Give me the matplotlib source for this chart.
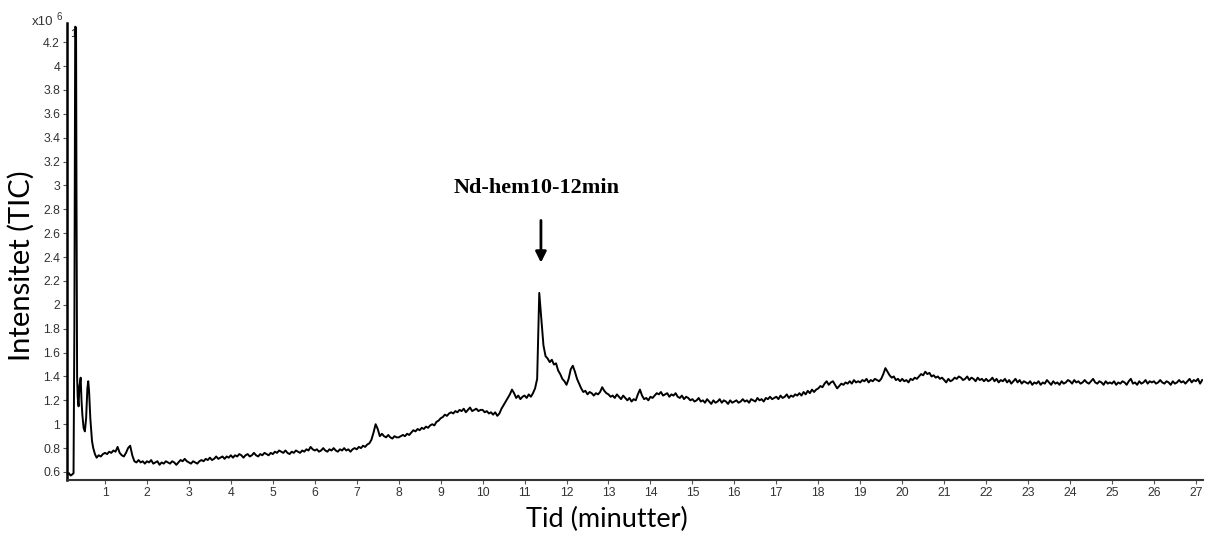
import matplotlib
matplotlib.use("Agg")
import matplotlib.pyplot as plt
import numpy as np

# TIC kromatogram, intensitet i enheter av 10^6
# Start (fin opplosning rundt injeksjonstoppen)
t_start = [0.10, 0.14, 0.18, 0.22, 0.25, 0.27, 0.29, 0.31, 0.32, 0.335,
           0.35, 0.37, 0.39, 0.42, 0.44, 0.46, 0.49, 0.52, 0.55, 0.58,
           0.60, 0.62, 0.65, 0.69, 0.72, 0.76, 0.80, 0.85]
i_start = [0.58, 0.59, 0.57, 0.58, 0.59, 1.80, 4.33, 4.32, 3.00, 1.40,
           1.22, 1.15, 1.32, 1.39, 1.20, 1.08, 0.97, 0.94, 1.05, 1.30,
           1.36, 1.28, 1.05, 0.86, 0.80, 0.75, 0.72, 0.74]

# Resten: hvert 0.05 min fra 0.90
t0 = 0.90
dt = 0.05
i_rest = [
    0.73, 0.75,
    0.76, 0.75, 0.77, 0.76, 0.78, 0.77, 0.81, 0.76, 0.74, 0.73, 0.76, 0.80, 0.82, 0.74, 0.69, 0.68, 0.70, 0.68, 0.69, 0.67,
    0.69, 0.68, 0.70, 0.67, 0.68, 0.69, 0.66, 0.68, 0.67, 0.69, 0.68, 0.67, 0.69, 0.68, 0.66, 0.68, 0.70, 0.69, 0.71, 0.69,
    0.68, 0.67, 0.69, 0.68, 0.67, 0.69, 0.70, 0.69, 0.71, 0.70, 0.72, 0.70, 0.71, 0.73, 0.71, 0.72, 0.73, 0.71, 0.73, 0.72,
    0.74, 0.72, 0.74, 0.73, 0.75, 0.74, 0.72, 0.74, 0.75, 0.73, 0.74, 0.76, 0.74, 0.73, 0.75, 0.74, 0.76, 0.75, 0.74, 0.76,
    0.75, 0.77, 0.76, 0.78, 0.77, 0.76, 0.78, 0.76, 0.75, 0.77, 0.76, 0.78, 0.77, 0.76, 0.78, 0.77, 0.79, 0.78, 0.81, 0.79,
    0.78, 0.79, 0.77, 0.78, 0.80, 0.78, 0.77, 0.79, 0.78, 0.80, 0.78, 0.77, 0.79, 0.78, 0.80, 0.78, 0.79, 0.77, 0.79, 0.80,
    0.79, 0.81, 0.80, 0.82, 0.81, 0.83, 0.84, 0.87, 0.93, 1.00, 0.96, 0.90, 0.92, 0.90, 0.89, 0.91, 0.89, 0.88, 0.90, 0.89,
    0.89, 0.90, 0.91, 0.90, 0.92, 0.91, 0.93, 0.95, 0.94, 0.96, 0.95, 0.97, 0.96, 0.98, 0.97, 0.99, 1.00, 0.99, 1.02, 1.03,
    1.05, 1.06, 1.08, 1.07, 1.09, 1.10, 1.09, 1.11, 1.10, 1.12, 1.11, 1.13, 1.10, 1.12, 1.14, 1.11, 1.12, 1.13, 1.11, 1.12,
    1.12, 1.10, 1.11, 1.09, 1.10, 1.08, 1.10, 1.07, 1.09, 1.13, 1.16, 1.19, 1.22, 1.25, 1.29, 1.26, 1.22, 1.24, 1.21, 1.23,
    1.24, 1.22, 1.25, 1.23, 1.26, 1.30, 1.38, 2.10, 1.88, 1.66, 1.57, 1.55, 1.52, 1.54, 1.50, 1.51, 1.45, 1.42, 1.38, 1.36,
    1.33, 1.38, 1.46, 1.49, 1.44, 1.38, 1.34, 1.30, 1.27, 1.28, 1.25, 1.27, 1.26, 1.24, 1.26, 1.25, 1.27, 1.31, 1.28, 1.26,
    1.25, 1.23, 1.24, 1.22, 1.25, 1.23, 1.21, 1.24, 1.22, 1.20, 1.22, 1.19, 1.21, 1.20, 1.25, 1.29, 1.24, 1.21, 1.22, 1.20,
    1.23, 1.22, 1.24, 1.26, 1.25, 1.27, 1.24, 1.25, 1.26, 1.23, 1.25, 1.24, 1.26, 1.23, 1.22, 1.24, 1.21, 1.23, 1.22, 1.20,
    1.21, 1.19, 1.20, 1.22, 1.19, 1.20, 1.18, 1.21, 1.19, 1.17, 1.20, 1.18, 1.19, 1.21, 1.18, 1.20, 1.19, 1.17, 1.20, 1.18,
    1.19, 1.20, 1.18, 1.19, 1.21, 1.19, 1.20, 1.18, 1.21, 1.20, 1.19, 1.22, 1.20, 1.21, 1.19, 1.22, 1.21, 1.23, 1.21, 1.22,
    1.23, 1.21, 1.24, 1.22, 1.23, 1.25, 1.22, 1.24, 1.23, 1.25, 1.24, 1.26, 1.24, 1.27, 1.25, 1.28, 1.26, 1.29, 1.27, 1.29,
    1.30, 1.32, 1.31, 1.34, 1.36, 1.33, 1.35, 1.36, 1.33, 1.30, 1.32, 1.34, 1.33, 1.35, 1.34, 1.36, 1.34, 1.37, 1.35, 1.36,
    1.35, 1.37, 1.36, 1.38, 1.35, 1.37, 1.36, 1.38, 1.37, 1.36, 1.38, 1.42, 1.47, 1.44, 1.41, 1.39, 1.40, 1.37, 1.38, 1.36,
    1.38, 1.36, 1.37, 1.35, 1.38, 1.37, 1.39, 1.38, 1.40, 1.42, 1.41, 1.44, 1.42, 1.43, 1.40, 1.41, 1.39, 1.40, 1.38, 1.39,
    1.37, 1.35, 1.38, 1.36, 1.37, 1.39, 1.38, 1.40, 1.39, 1.37, 1.38, 1.40, 1.37, 1.39, 1.38, 1.36, 1.39, 1.37, 1.38, 1.36,
    1.38, 1.36, 1.37, 1.39, 1.36, 1.38, 1.35, 1.37, 1.36, 1.38, 1.35, 1.37, 1.34, 1.36, 1.38, 1.35, 1.37, 1.34, 1.36, 1.35,
    1.34, 1.36, 1.33, 1.35, 1.34, 1.36, 1.33, 1.35, 1.34, 1.37, 1.35, 1.33, 1.36, 1.34, 1.35, 1.33, 1.36, 1.34, 1.35, 1.37,
    1.36, 1.34, 1.37, 1.35, 1.36, 1.34, 1.35, 1.37, 1.35, 1.34, 1.36, 1.38, 1.35, 1.34, 1.36, 1.35, 1.33, 1.36, 1.34, 1.35,
    1.34, 1.36, 1.33, 1.35, 1.34, 1.36, 1.35, 1.33, 1.36, 1.38, 1.34, 1.35, 1.33, 1.36, 1.34, 1.35, 1.37, 1.34, 1.36, 1.35,
    1.36, 1.34, 1.35, 1.37, 1.35, 1.34, 1.36, 1.35, 1.33, 1.36, 1.34, 1.35, 1.37, 1.35, 1.36, 1.34, 1.36, 1.38, 1.35, 1.37,
    1.36, 1.38, 1.34, 1.37,
]

x_ticks = list(range(1, 28))
y_ticks = [0.6, 0.8, 1, 1.2, 1.4, 1.6, 1.8, 2, 2.2, 2.4, 2.6, 2.8, 3,
           3.2, 3.4, 3.6, 3.8, 4, 4.2]

peak_label = "Nd-hem10-12min"
peak_time = 11.39

t_rest = t0 + dt * np.arange(len(i_rest))
tid = np.concatenate([t_start, t_rest])
intens = np.concatenate([i_start, i_rest])

fig = plt.figure(figsize=(12.07, 5.36), dpi=100)
ax = fig.add_axes([0.0555, 0.1045, 0.9412, 0.8525])

ax.plot(tid, intens, color="black", lw=1.4)

ax.set_xlim(0.094, 27.17)
ax.set_ylim(0.533, 4.36)
ax.set_xticks(x_ticks)
ax.set_yticks(y_ticks)
ax.set_yticklabels(["%g" % v for v in y_ticks])

for s in ["top", "right"]:
    ax.spines[s].set_visible(False)
ax.spines["left"].set_linewidth(1.8)
ax.spines["left"].set_color("black")
ax.spines["bottom"].set_linewidth(1.5)
ax.spines["bottom"].set_color("#333333")

ax.tick_params(length=3, width=0.8, color="#555555", labelcolor="#333333",
               labelsize=8.8, pad=2)
for lbl in ax.get_xticklabels() + ax.get_yticklabels():
    lbl.set_family("Liberation Sans")

ax.set_xlabel("Tid (minutter)", fontsize=19.5, family="Lato")
ax.set_ylabel("Intensitet (TIC)", fontsize=21, family="Lato")
ax.xaxis.set_label_coords(0.475, -0.058)
ax.yaxis.set_label_coords(-0.028, 0.468)

# skalafaktor oppe til venstre
fig.text(0.026, 0.953, "x10", fontsize=9.5, color="#333333", family="Liberation Sans")
fig.text(0.0465, 0.962, "6", fontsize=7, color="#333333", family="Liberation Sans")

# toppnummer
ax.text(0.16, 4.27, "1", fontsize=8, color="black", family="Liberation Sans",
        ha="left", va="center")

ax.annotate("", xy=(peak_time, 2.33), xytext=(peak_time, 2.73),
            arrowprops=dict(arrowstyle="-|>", color="black", lw=2,
                            mutation_scale=16))
ax.text(peak_time - 0.1, 2.98, peak_label, fontsize=16, fontweight="bold",
        family="Liberation Serif", ha="center", va="center")

fig.savefig("out.png", dpi=100)
